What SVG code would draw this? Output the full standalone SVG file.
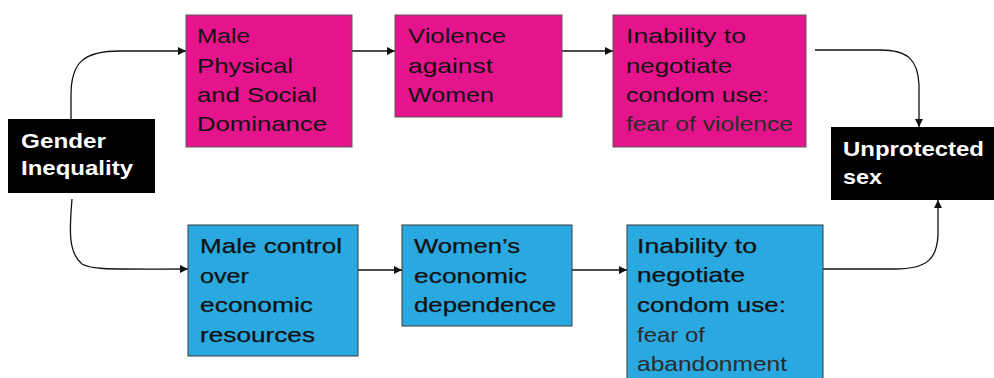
<svg xmlns="http://www.w3.org/2000/svg" width="994" height="378" viewBox="0 0 994 378">
<defs>
<style>
.pink{fill:#E6148C;stroke:#5a5a5a;stroke-width:1}
.blue{fill:#2AA8E0;stroke:#3a3a3a;stroke-width:1}
.blk{fill:#000}
.t{font-family:"Liberation Sans",Arial,sans-serif;font-size:21px;fill:#111}
.tb{font-family:"Liberation Sans",Arial,sans-serif;font-size:21px;fill:#111;stroke:#111;stroke-width:0.25}
.tl{font-family:"Liberation Sans",Arial,sans-serif;font-size:21px;fill:#2a2a2a}
.w{font-family:"Liberation Sans",Arial,sans-serif;font-size:21px;font-weight:bold;fill:#fff}
.c{fill:none;stroke:#111;stroke-width:1.3}
</style>
<marker id="ah" viewBox="0 0 10 10" refX="10" refY="5" markerWidth="9" markerHeight="8" orient="auto" markerUnits="userSpaceOnUse"><path d="M0,0 L10,5 L0,10 z" fill="#111"/></marker>
</defs>
<rect width="994" height="378" fill="#fff"/>

<g id="connectors">
<path class="c" marker-end="url(#ah)" d="M71,119 L71,95 C71,62 84,51 120,51 L186,51"/>
<path class="c" marker-end="url(#ah)" d="M72,199 C70,225 67,252 82,264 C92,270 110,269 188,269"/>
<path class="c" marker-end="url(#ah)" d="M352,51 L395,51"/>
<path class="c" marker-end="url(#ah)" d="M562,51 L613,51"/>
<path class="c" marker-end="url(#ah)" d="M815,50 L880,50 C908,50 918,60 919,85 L919,127"/>
<path class="c" marker-end="url(#ah)" d="M358,270 L402,270"/>
<path class="c" marker-end="url(#ah)" d="M572,270 L627,270"/>
<path class="c" marker-end="url(#ah)" d="M823,269 L895,269 C928,269 937,258 938,235 L938,200"/>
</g>

<g id="gender">
<rect class="blk" x="8" y="119" width="147" height="74"/>
<text class="w" x="21" y="148" textLength="85" lengthAdjust="spacingAndGlyphs">Gender</text>
<text class="w" x="21" y="175" textLength="112" lengthAdjust="spacingAndGlyphs">Inequality</text>
</g>

<g id="male-dominance">
<rect class="pink" x="186" y="15" width="166" height="132"/>
<text class="t" x="197" y="43" textLength="53" lengthAdjust="spacingAndGlyphs">Male</text>
<text class="t" x="197" y="73" textLength="96" lengthAdjust="spacingAndGlyphs">Physical</text>
<text class="t" x="197" y="102" textLength="120" lengthAdjust="spacingAndGlyphs">and Social</text>
<text class="t" x="197" y="131" textLength="130" lengthAdjust="spacingAndGlyphs">Dominance</text>
</g>

<g id="violence">
<rect class="pink" x="395" y="15" width="167" height="102"/>
<text class="t" x="408" y="43" textLength="98" lengthAdjust="spacingAndGlyphs">Violence</text>
<text class="t" x="408" y="73" textLength="85" lengthAdjust="spacingAndGlyphs">against</text>
<text class="t" x="408" y="102" textLength="86" lengthAdjust="spacingAndGlyphs">Women</text>
</g>

<g id="inability-violence">
<rect class="pink" x="613" y="15" width="193" height="132"/>
<text class="t" x="626" y="43" textLength="120" lengthAdjust="spacingAndGlyphs">Inability to</text>
<text class="t" x="626" y="73" textLength="106" lengthAdjust="spacingAndGlyphs">negotiate</text>
<text class="t" x="626" y="102" textLength="143" lengthAdjust="spacingAndGlyphs">condom use:</text>
<text class="tl" x="626" y="131" textLength="167" lengthAdjust="spacingAndGlyphs">fear of violence</text>
</g>

<g id="unprotected">
<rect class="blk" x="831" y="127" width="163" height="73"/>
<text class="w" x="843" y="156" textLength="141" lengthAdjust="spacingAndGlyphs">Unprotected</text>
<text class="w" x="843" y="184" textLength="39" lengthAdjust="spacingAndGlyphs">sex</text>
</g>

<g id="male-control">
<rect class="blue" x="188" y="225" width="170" height="131"/>
<text class="tb" x="200" y="253" textLength="142" lengthAdjust="spacingAndGlyphs">Male control</text>
<text class="tb" x="200" y="283" textLength="49" lengthAdjust="spacingAndGlyphs">over</text>
<text class="tb" x="200" y="312" textLength="113" lengthAdjust="spacingAndGlyphs">economic</text>
<text class="tb" x="200" y="342" textLength="115" lengthAdjust="spacingAndGlyphs">resources</text>
</g>

<g id="dependence">
<rect class="blue" x="402" y="225" width="170" height="101"/>
<text class="tb" x="414" y="253" textLength="106" lengthAdjust="spacingAndGlyphs">Women’s</text>
<text class="tb" x="414" y="283" textLength="113" lengthAdjust="spacingAndGlyphs">economic</text>
<text class="tb" x="414" y="312" textLength="142" lengthAdjust="spacingAndGlyphs">dependence</text>
</g>

<g id="inability-abandonment">
<rect class="blue" x="627" y="225" width="196" height="165"/>
<text class="tb" x="637" y="253" textLength="120" lengthAdjust="spacingAndGlyphs">Inability to</text>
<text class="tb" x="637" y="282" textLength="108" lengthAdjust="spacingAndGlyphs">negotiate</text>
<text class="tb" x="637" y="312" textLength="149" lengthAdjust="spacingAndGlyphs">condom use:</text>
<text class="tl" x="637" y="342" textLength="68" lengthAdjust="spacingAndGlyphs">fear of</text>
<text class="tl" x="637" y="371" textLength="150" lengthAdjust="spacingAndGlyphs">abandonment</text>
</g>
</svg>
